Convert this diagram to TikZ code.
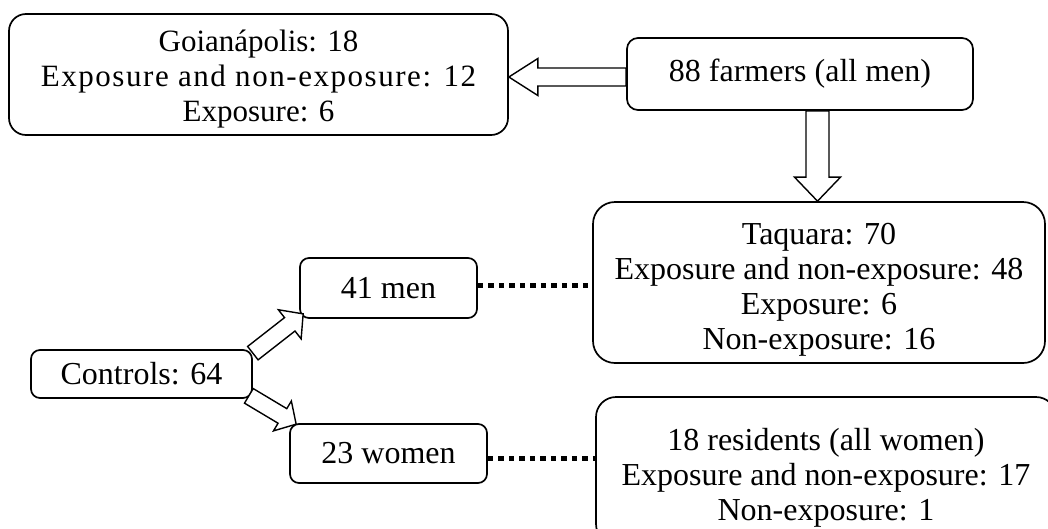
\documentclass[tikz,border=0pt]{standalone}
\usepackage{fontspec}
\setmainfont{Liberation Serif}
\usetikzlibrary{calc}
\tikzset{
  box/.style={draw, line width=1.7pt, rounded corners=#1, align=center, inner sep=0pt,
    font=\fontsize{32}{35}\selectfont},
  box/.default=9pt,
  blk/.style={draw, line width=1.4pt, fill=white, line join=miter},
  dots/.style={line width=5pt, dash pattern=on 5.5pt off 5pt},
}
\newcommand\blockarrow[6]{%
  \coordinate (#1h) at ($(#3)!#6!(#2)$);
  \draw[blk] ($(#2)!#4!90:(#3)$) -- ($(#1h)!#4!90:(#3)$) -- ($(#1h)!#5!90:(#3)$) -- (#3)
    -- ($(#1h)!#5!-90:(#3)$) -- ($(#1h)!#4!-90:(#3)$) -- ($(#2)!#4!-90:(#3)$) -- cycle;
}
\newcommand\toprule[1][36pt]{\rule{0pt}{#1}}
\begin{document}
\begin{tikzpicture}[x=1pt,y=-1pt]
\useasboundingbox (0,0) rectangle (1048,528);
\clip (0,0) rectangle (1048,528);

\node[box=17pt, minimum width=499pt, minimum height=121pt, font=\fontsize{31}{35}\selectfont] (goi) at (258.5,74.5)
  {\toprule[30pt]Goian\'apolis: 18\\{\addfontfeature{LetterSpace=5}Exposure and non-exposure: 12}\\Exposure: 6};
\node[box=11pt, minimum width=346pt, minimum height=72pt] (farmers) at (800,74)
  {88 farmers (all men)};
\node[box=22pt, minimum width=452pt, minimum height=161pt] (taq) at (819,282.5)
  {\toprule Taquara: 70\\Exposure and non-exposure: 48\\Exposure: 6\\Non-exposure: 16};
\node[box=20pt, minimum width=460pt, minimum height=147pt] (res) at (826,470.5)
  {\toprule 18 residents (all women)\\Exposure and non-exposure: 17\\Non-exposure: 1};
\node[box=9pt, minimum width=177pt, minimum height=60pt] (men) at (388.5,288) {41 men};
\node[box=9pt, minimum width=221pt, minimum height=48pt] (controls) at (141.5,374) {Controls: 64};
\node[box=9pt, minimum width=197pt, minimum height=59pt] (women) at (388.5,453.5) {23 women};

\coordinate (la) at ($(farmers.west)+(0,3)$);
\coordinate (lb) at (la -| goi.east);
\blockarrow{l}{la}{lb}{9pt}{18.5pt}{29pt}

\coordinate (da) at ($(farmers.south)+(17.5,0)$);
\coordinate (db) at (da |- taq.north);
\blockarrow{d}{da}{db}{11.5pt}{23pt}{24pt}

\coordinate (ua) at ($(controls.north east)+(0,4)$);
\coordinate (ub) at ($(men.south west)+(4,-5)$);
\blockarrow{u}{ua}{ub}{8.5pt}{18.5pt}{17pt}

\coordinate (wa) at ($(controls.south east)+(-4,-3)$);
\coordinate (wb) at ($(women.north west)+(7,1)$);
\blockarrow{w}{wa}{wb}{8.5pt}{17.4pt}{16pt}

\draw[dots] ([yshift=3pt]men.east) -- ([yshift=3pt]men.east -| taq.west);
\draw[dots] ([yshift=-5pt]women.east) -- ([yshift=-5pt]women.east -| res.west);
\end{tikzpicture}
\end{document}
